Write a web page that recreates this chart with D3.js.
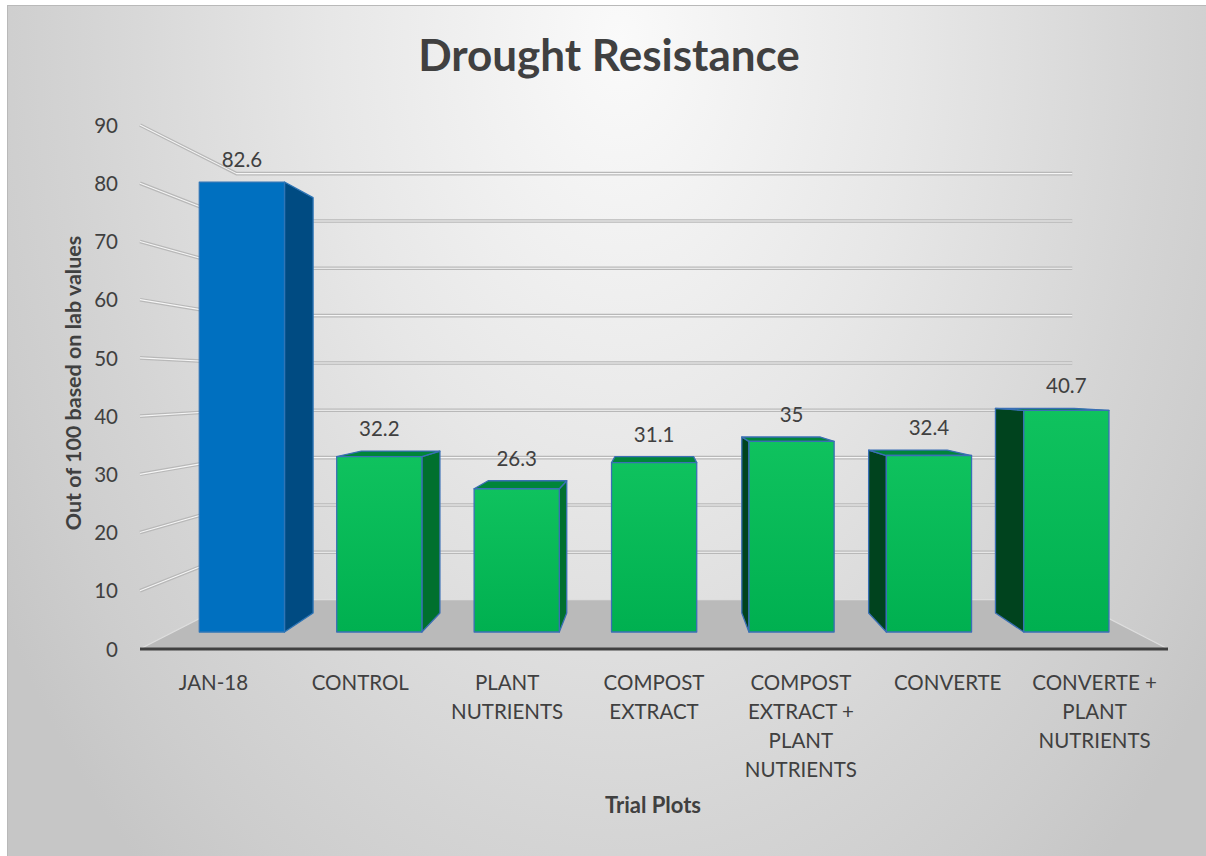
<!DOCTYPE html>
<html>
<head>
<meta charset="utf-8">
<script src="https://cdn.jsdelivr.net/npm/d3@7"></script>
<style>
  html, body { margin: 0; padding: 0; background: #ffffff; }
  svg { display: block; font-family: Lato, "Open Sans", sans-serif; }
</style>
</head>
<body>
<svg id="chart" width="1206" height="856"></svg>
<script>
// Trial plot categories and their drought resistance scores
const categories = [
  "JAN-18",
  "CONTROL",
  "PLANT NUTRIENTS",
  "COMPOST EXTRACT",
  "COMPOST EXTRACT + PLANT NUTRIENTS",
  "CONVERTE",
  "CONVERTE + PLANT NUTRIENTS"
];
const values = [82.6, 32.2, 26.3, 31.1, 35, 32.4, 40.7];
const yTicks = [0, 10, 20, 30, 40, 50, 60, 70, 80, 90];

const chartTitle = "Drought Resistance";
const xTitle = "Trial Plots";
const yTitle = "Out of 100 based on lab values";

const svg = d3.select("#chart");
const W = 1206, H = 856;
const textColor = "#404040";

// ---- perspective helpers -------------------------------------------------
// Front plane coordinates are projected backwards towards a vanishing point.
const VP = [656, 385];
const depth = d3.scaleLinear().domain([0, 1]).range([1, 0.813]);
function P(x, y, z) {
  const s = depth(z);
  return [VP[0] + (x - VP[0]) * s, VP[1] + (y - VP[1]) * s];
}
const line = pts => "M" + pts.map(p => p.join(",")).join("L");
const poly = pts => line(pts) + "Z";

// ---- scales --------------------------------------------------------------
const x = d3.scaleBand()
  .domain(categories)
  .range([140, 1168])
  .paddingInner(0.38)
  .paddingOuter(0.19);
const y = d3.scaleLinear().domain([0, 90]).range([649, 125]);
const barFrontZ = 0.344, barBackZ = 0.729;

// ---- defs ----------------------------------------------------------------
const defs = svg.append("defs");
const bg = defs.append("radialGradient")
  .attr("id", "bgGrad")
  .attr("gradientUnits", "userSpaceOnUse")
  .attr("cx", 620).attr("cy", 40).attr("r", 1100)
  .attr("gradientTransform", "translate(620,40) scale(0.66,1) translate(-620,-40)");
[[0, "#fafafa"], [0.4, "#e7e7e7"], [0.74, "#d4d4d4"], [0.88, "#cdcdcd"], [1, "#c6c6c6"]]
  .forEach(([o, c]) => bg.append("stop").attr("offset", o).attr("stop-color", c));

const greenGrad = defs.append("linearGradient")
  .attr("id", "greenGrad").attr("x1", 0).attr("y1", 0).attr("x2", 0).attr("y2", 1);
greenGrad.append("stop").attr("offset", 0).attr("stop-color", "#0fc25e");
greenGrad.append("stop").attr("offset", 1).attr("stop-color", "#00b050");

// ---- background ----------------------------------------------------------
svg.append("rect")
  .attr("x", 7.5).attr("y", 5.5)
  .attr("width", W - 7).attr("height", H - 5)
  .attr("fill", "url(#bgGrad)")
  .attr("stroke", "#b9b9b9").attr("stroke-width", 1);

// ---- title ---------------------------------------------------------------
svg.append("text")
  .attr("x", 609).attr("y", 71)
  .attr("text-anchor", "middle")
  .attr("font-size", 44).attr("font-weight", 700)
  .attr("fill", textColor)
  .text(chartTitle);

// ---- gridlines on the side and back walls --------------------------------
const [xLeft, xRight] = x.range();
const grid = svg.append("g");
yTicks.filter(v => v > 0).forEach(v => {
  const pts = [P(xLeft, y(v), 0), P(xLeft, y(v), 1), P(xRight, y(v), 1)];
  grid.append("path").attr("d", line(pts))
    .attr("fill", "none").attr("stroke", "#b8b8b8").attr("stroke-width", 3.6)
    .attr("stroke-linejoin", "round");
  grid.append("path").attr("d", line(pts))
    .attr("fill", "none").attr("stroke", "#f6f6f6").attr("stroke-width", 1.1)
    .attr("stroke-linejoin", "round");
});

// ---- floor ---------------------------------------------------------------
const y0 = y(0);
svg.append("path")
  .attr("d", poly([P(xLeft, y0, 0), P(xLeft, y0, 1), P(xRight, y0, 1), P(xRight, y0, 0)]))
  .attr("fill", "#bababa");
svg.append("path")
  .attr("d", line([P(xLeft, y0, 0), P(xLeft, y0, 1), P(xRight, y0, 1), P(xRight, y0, 0)]))
  .attr("fill", "none").attr("stroke", "#dedede").attr("stroke-width", 1.2);
svg.append("line")
  .attr("x1", xLeft).attr("x2", xRight).attr("y1", y0).attr("y2", y0)
  .attr("stroke", "#404040").attr("stroke-width", 3);

// ---- bars ----------------------------------------------------------------
const bars = svg.append("g");
categories.forEach((c, i) => {
  const v = values[i];
  const x0 = x(c), x1 = x(c) + x.bandwidth();
  const yt = y(v), yb = y(0);
  const base = i === 0;
  const frontFill = base ? "#0070c0" : "url(#greenGrad)";
  const edge = base ? "#2e75b6" : "#3a6fb5";
  const g = bars.append("g")
    .attr("stroke", edge).attr("stroke-width", 1.3).attr("stroke-linejoin", "round");

  // side face facing the vanishing point
  if (x1 < VP[0]) {
    g.append("path")
      .attr("d", poly([P(x1, yt, barFrontZ), P(x1, yt, barBackZ), P(x1, yb, barBackZ), P(x1, yb, barFrontZ)]))
      .attr("fill", base ? "#004b82" : "#00702e");
  } else if (x0 > VP[0]) {
    g.append("path")
      .attr("d", poly([P(x0, yt, barFrontZ), P(x0, yt, barBackZ), P(x0, yb, barBackZ), P(x0, yb, barFrontZ)]))
      .attr("fill", "#00431e");
  }
  // top face, visible when below eye level
  if (yt > VP[1]) {
    g.append("path")
      .attr("d", poly([P(x0, yt, barFrontZ), P(x0, yt, barBackZ), P(x1, yt, barBackZ), P(x1, yt, barFrontZ)]))
      .attr("fill", base ? "#005a9a" : "#00853a");
  }
  // front face
  const a = P(x0, yt, barFrontZ), b = P(x1, yb, barFrontZ);
  g.append("rect")
    .attr("x", a[0]).attr("y", a[1])
    .attr("width", b[0] - a[0]).attr("height", b[1] - a[1])
    .attr("fill", frontFill);

  // value label above the bar
  const topY = Math.min(P(x0, yt, barFrontZ)[1], P(x0, yt, barBackZ)[1]);
  svg.append("text")
    .attr("x", (a[0] + b[0]) / 2).attr("y", topY - 15)
    .attr("text-anchor", "middle")
    .attr("font-size", 20.5).attr("fill", textColor)
    .text(v);
});

// ---- value axis ----------------------------------------------------------
const yAxis = svg.append("g")
  .attr("transform", `translate(${xLeft},0)`)
  .call(d3.axisLeft(y).tickValues(yTicks).tickSize(0).tickPadding(22).tickFormat(d3.format("d")));
yAxis.select(".domain").remove();
yAxis.selectAll("text")
  .attr("font-size", 20.5).attr("font-family", "Lato, 'Open Sans', sans-serif")
  .attr("fill", textColor).attr("dy", "0.35em");

svg.append("text")
  .attr("transform", "translate(81,383) rotate(-90)")
  .attr("text-anchor", "middle")
  .attr("font-size", 21.5).attr("font-weight", 700)
  .attr("fill", textColor)
  .text(yTitle);

// ---- category axis -------------------------------------------------------
function wrapWords(str, maxW, probe) {
  const words = str.split(" ");
  const lines = [];
  let cur = "";
  words.forEach(w => {
    const test = cur ? cur + " " + w : w;
    probe.text(test);
    if (cur && probe.node().getComputedTextLength() > maxW) {
      lines.push(cur);
      cur = w;
    } else {
      cur = test;
    }
  });
  if (cur) lines.push(cur);
  return lines;
}
const labelSize = 20.5;
const probe = svg.append("text").attr("font-size", labelSize).attr("visibility", "hidden");
const xAxis = svg.append("g");
categories.forEach(c => {
  const lines = wrapWords(c, 134, probe);
  const t = xAxis.append("text")
    .attr("x", x(c) + x.bandwidth() / 2)
    .attr("y", 690)
    .attr("text-anchor", "middle")
    .attr("font-size", labelSize).attr("fill", textColor);
  lines.forEach((ln, k) => {
    t.append("tspan")
      .attr("x", x(c) + x.bandwidth() / 2)
      .attr("dy", k === 0 ? 0 : 29)
      .text(ln);
  });
});
probe.remove();

svg.append("text")
  .attr("x", 653).attr("y", 813)
  .attr("text-anchor", "middle")
  .attr("font-size", 22).attr("font-weight", 700)
  .attr("fill", textColor)
  .text(xTitle);
</script>
</body>
</html>
